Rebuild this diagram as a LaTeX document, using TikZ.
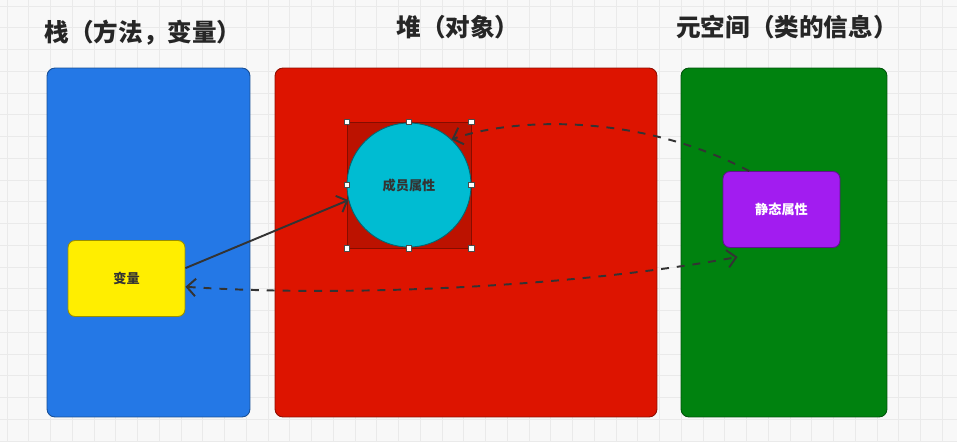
\documentclass[tikz,border=0pt]{standalone}
\usepackage{fontspec}
\setmainfont{Noto Sans CJK SC}
\usepackage{tikz}
\usetikzlibrary{positioning,arrows.meta}
\definecolor{stackblue}{HTML}{2478E6}
\definecolor{heapred}{HTML}{DD1400}
\definecolor{metagreen}{HTML}{00820F}
\definecolor{varyellow}{HTML}{FFEE00}
\definecolor{attrcyan}{HTML}{00BCD2}
\definecolor{staticpurple}{HTML}{A21CF0}
\definecolor{selred}{HTML}{BC1200}
\definecolor{inkgrey}{HTML}{333333}
\definecolor{boardbg}{HTML}{F8F8F8}
\definecolor{boardline}{HTML}{EAEAEA}
\tikzset{
  region/.style={draw=#1!65!black, fill=#1, line width=0.5pt, rounded corners=4.5pt, minimum height=6.98cm},
  regiontitle/.style={font=\bfseries\fontsize{14}{16}\selectfont, text=black!85, inner sep=0pt},
  membox/.style={draw=#1!60!black, fill=#1, line width=0.5pt, rounded corners=4pt, minimum width=2.34cm, minimum height=1.52cm, font=\bfseries\fontsize{7.5}{9}\selectfont},
  grip/.style={draw=black!70, fill=white, line width=0.3pt, minimum size=3pt, inner sep=0pt},
  ptr/.style={draw=inkgrey, line width=1.1pt, >={Straight Barb[length=5pt,width=10pt]}}
}

\begin{document}
\begin{tikzpicture}[x=0.02cm, y=-0.02cm]
  \useasboundingbox (0,0) rectangle (957,441);
  \fill[boardbg] (0,0) rectangle (957,441);
  \foreach \g in {7,28.75,...,957} \draw[boardline, line width=0.5pt] (\g,0) -- (\g,441);
  \foreach \g in {6,27.75,...,441} \draw[boardline, line width=0.5pt] (0,\g) -- (957,\g);

  % three memory areas
  \node[region=stackblue, minimum width=4.06cm] (stack) at (148.5,242.5) {};
  \node[region=heapred, minimum width=7.64cm] (heap) at (466,242.5) {};
  \node[region=metagreen, minimum width=4.12cm] (meta) at (784,242.5) {};
  \node[regiontitle] (stacktitle) at (143,33) {栈（方法，变量）};
  \node[regiontitle] (heaptitle) at (458,27) {堆（对象）};
  \node[regiontitle] (metatitle) at (787,27) {元空间（类的信息）};

  \node[draw=selred!70!black, fill=selred, line width=0.4pt, minimum width=2.48cm, minimum height=2.52cm] (sel) at (409,185) {};
  \node[circle, draw=attrcyan!55!black, fill=attrcyan, line width=0.5pt, minimum size=2.48cm, font=\bfseries\fontsize{7.5}{9}\selectfont, text=inkgrey] (attr) at (409,185) {成员属性};
  \foreach \a in {north west,north,north east,east,south east,south,south west,west}
    \node[grip] (grip-\a) at (sel.\a) {};

  \node[membox=varyellow, text=inkgrey] (var) at (126.5,278.5) {变量};
  \node[membox=staticpurple, text=white] (static) at (781.5,209.5) {静态属性};

  \draw[ptr, ->] (var.10) -- (attr.194);
  \draw[ptr, ->, dash pattern=on 4.5pt off 4.5pt] (static.130) .. controls +(-110,-58) and +(63,-22) .. (attr.47);
  \draw[ptr, <->, dash pattern=on 4.5pt off 4.5pt] (var.-8) .. controls +(168,11) and +(-158,29) .. ([shift={(15,9)}]static.south west);
\end{tikzpicture}
\end{document}
